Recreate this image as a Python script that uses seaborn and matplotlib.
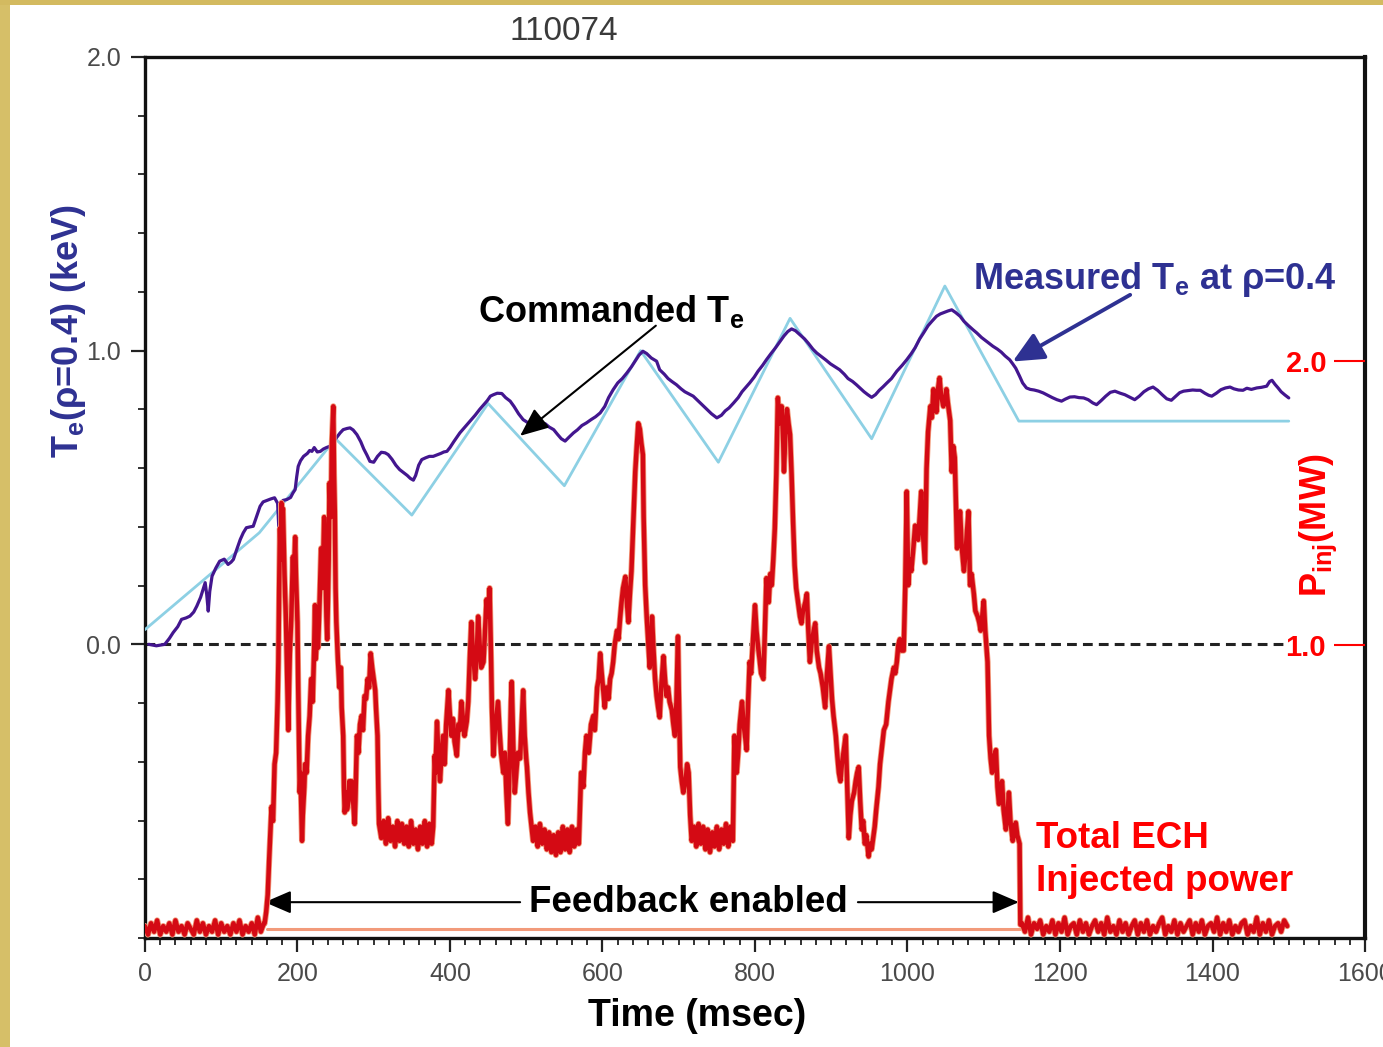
import matplotlib
matplotlib.use("Agg")
import matplotlib.pyplot as plt
import seaborn as sns
from matplotlib.patches import Rectangle
from matplotlib.ticker import MultipleLocator, FixedLocator

# ---------------------------------------------------------------- data
shot_label = "110074"

# Commanded T_e waveform (ms, keV)
te_cmd_t = [0, 150, 250, 350, 450, 550, 650, 752, 846, 953, 1049, 1146, 1500]
te_cmd = [0.05, 0.38, 0.70, 0.44, 0.82, 0.54, 1.00, 0.62, 1.11, 0.70, 1.22, 0.76, 0.76]

# Measured T_e at rho = 0.4 (ms, keV)
te_meas = [
    (5, 0.0), (15, -0.005), (26, 0.0), (32, 0.02), (37, 0.04), (43, 0.06), (48, 0.085),
    (54, 0.09), (59, 0.096), (64, 0.11), (68, 0.13), (73, 0.16), (79, 0.21), (81, 0.17),
    (83, 0.113), (85, 0.18), (88, 0.232), (93, 0.26), (98, 0.283), (104, 0.29), (109, 0.272),
    (113, 0.28), (116, 0.289), (120, 0.32), (125, 0.357), (129, 0.38), (133, 0.397),
    (138, 0.40), (142, 0.402), (147, 0.44), (151, 0.47), (155, 0.485), (160, 0.49),
    (165, 0.495), (170, 0.499), (174, 0.48), (176, 0.374), (178, 0.45), (181, 0.49),
    (186, 0.493), (191, 0.50), (194, 0.515), (197, 0.527), (199, 0.57), (201, 0.606),
    (204, 0.625), (208, 0.64), (213, 0.65), (216, 0.66), (219, 0.657), (222, 0.67),
    (226, 0.655), (230, 0.657), (234, 0.665), (238, 0.67), (243, 0.675), (247, 0.69),
    (251, 0.703), (256, 0.72), (260, 0.731), (265, 0.735), (269, 0.737), (273, 0.73),
    (278, 0.714), (283, 0.69), (287, 0.665), (291, 0.645), (295, 0.623), (300, 0.62),
    (305, 0.64), (310, 0.654), (315, 0.652), (319, 0.646), (324, 0.63), (329, 0.61),
    (334, 0.595), (339, 0.585), (344, 0.575), (348, 0.565), (352, 0.559), (355, 0.575),
    (359, 0.61), (363, 0.629), (368, 0.635), (373, 0.64), (378, 0.64), (383, 0.645),
    (388, 0.65), (392, 0.655), (396, 0.657), (400, 0.67), (405, 0.69), (409, 0.705),
    (413, 0.72), (418, 0.735), (423, 0.75), (428, 0.765), (433, 0.78), (439, 0.80),
    (444, 0.815), (449, 0.83), (453, 0.845), (457, 0.85), (462, 0.855), (468, 0.854),
    (473, 0.84), (479, 0.828), (484, 0.81), (490, 0.785), (496, 0.765), (502, 0.755),
    (509, 0.751), (516, 0.752), (520, 0.75), (525, 0.751), (530, 0.74), (536, 0.731),
    (541, 0.715), (546, 0.70), (551, 0.692), (556, 0.705), (562, 0.72), (567, 0.73),
    (573, 0.745), (579, 0.754), (585, 0.765), (591, 0.775), (597, 0.788), (603, 0.81),
    (608, 0.84), (614, 0.867), (620, 0.89), (626, 0.905), (632, 0.924), (638, 0.945),
    (643, 0.965), (648, 0.985), (653, 0.998), (658, 0.99), (664, 0.975), (671, 0.964),
    (675, 0.935), (681, 0.92), (686, 0.905), (691, 0.895), (697, 0.884), (703, 0.87),
    (708, 0.86), (714, 0.852), (719, 0.845), (725, 0.83), (731, 0.815), (737, 0.80),
    (743, 0.785), (750, 0.771), (756, 0.78), (761, 0.795), (766, 0.805), (772, 0.822),
    (778, 0.84), (783, 0.86), (788, 0.875), (793, 0.89), (799, 0.91), (804, 0.93),
    (810, 0.95), (815, 0.969), (821, 0.99), (827, 1.01), (833, 1.032), (838, 1.05),
    (843, 1.065), (848, 1.074), (853, 1.068), (859, 1.054), (865, 1.04), (870, 1.025),
    (876, 1.005), (881, 0.992), (887, 0.98), (893, 0.968), (899, 0.955), (905, 0.945),
    (911, 0.935), (917, 0.92), (922, 0.905), (928, 0.895), (933, 0.884), (938, 0.872),
    (943, 0.86), (948, 0.85), (953, 0.841), (958, 0.85), (963, 0.865), (968, 0.877),
    (973, 0.89), (979, 0.905), (986, 0.93), (993, 0.95), (999, 0.969), (1005, 0.99),
    (1010, 1.01), (1016, 1.04), (1021, 1.06), (1027, 1.085), (1032, 1.10), (1038, 1.117),
    (1043, 1.125), (1048, 1.13), (1053, 1.135), (1058, 1.139), (1063, 1.13), (1069, 1.117),
    (1074, 1.10), (1080, 1.085), (1086, 1.071), (1091, 1.06), (1097, 1.045), (1102, 1.035),
    (1107, 1.025), (1112, 1.015), (1118, 1.005), (1123, 0.995), (1128, 0.982), (1134, 0.969),
    (1138, 0.955), (1142, 0.94), (1147, 0.913), (1151, 0.89), (1156, 0.873), (1161, 0.868),
    (1166, 0.866), (1172, 0.862), (1178, 0.856), (1184, 0.848), (1190, 0.84), (1196, 0.833),
    (1202, 0.828), (1207, 0.835), (1213, 0.842), (1219, 0.843), (1225, 0.84), (1231, 0.839),
    (1237, 0.833), (1243, 0.822), (1248, 0.816), (1254, 0.83), (1260, 0.845), (1266, 0.858),
    (1272, 0.862), (1279, 0.855), (1285, 0.85), (1291, 0.842), (1298, 0.833), (1304, 0.845),
    (1310, 0.86), (1316, 0.87), (1322, 0.876), (1328, 0.865), (1334, 0.85), (1340, 0.836),
    (1346, 0.831), (1352, 0.845), (1357, 0.857), (1362, 0.862), (1368, 0.864), (1374, 0.866),
    (1379, 0.865), (1384, 0.865), (1390, 0.855), (1395, 0.848), (1399, 0.845), (1405, 0.855),
    (1411, 0.867), (1417, 0.873), (1423, 0.876), (1428, 0.87), (1434, 0.866), (1440, 0.865),
    (1445, 0.872), (1451, 0.868), (1458, 0.873), (1464, 0.875), (1471, 0.879), (1475, 0.895),
    (1478, 0.899), (1482, 0.885), (1486, 0.873), (1490, 0.86), (1495, 0.849), (1500, 0.839),
]

# Total injected ECH power (MW): level before feedback, sampled every 4 ms from 0 ms
pinj_pre = [0.01, -0.02, 0.02, -0.01, 0.03, -0.02, 0.01, -0.01, 0.02, -0.02,
            0.03, -0.01, 0.01, -0.02, 0.02, 0.00, -0.02, 0.03, -0.01, 0.02,
            -0.02, 0.01, -0.01, 0.03, -0.02, 0.02, -0.01, 0.01, -0.02, 0.02,
            -0.01, 0.03, -0.02, 0.01, -0.01, 0.02, -0.02, 0.04, -0.01, 0.02]

# Total injected ECH power while feedback is enabled (ms, MW)
pinj_fb = [
    (157, 0.02), (159, 0.06), (161, 0.12), (163, 0.25), (166, 0.43), (168, 0.38), (170, 0.58),
    (172, 0.62), (174, 0.80), (175, 0.94), (176, 1.20), (177, 1.41), (178, 1.30), (179, 1.50),
    (180, 1.44), (181, 1.48), (183, 1.25), (185, 1.08), (186, 0.95), (188, 0.70), (189, 0.85),
    (190, 0.97), (192, 1.10), (194, 1.31), (195, 1.20), (197, 1.38), (198, 1.25), (200, 1.08),
    (201, 0.85), (203, 0.48), (204, 0.55), (206, 0.31), (207, 0.40), (209, 0.50), (210, 0.58),
    (212, 0.55), (214, 0.68), (216, 0.75), (218, 0.88), (220, 0.80), (222, 1.00), (223, 1.14),
    (224, 0.95), (226, 1.05), (227, 0.99), (229, 1.15), (231, 1.34), (233, 1.20), (235, 1.45),
    (236, 1.38), (238, 1.10), (239, 1.02), (241, 1.30), (242, 1.57), (244, 1.45), (245, 1.70),
    (247, 1.84), (248, 1.60), (249, 1.47), (250, 1.20), (251, 1.08), (253, 0.95), (255, 0.85),
    (257, 0.92), (258, 0.78), (260, 0.68), (261, 0.50), (262, 0.41), (264, 0.48), (265, 0.42),
    (267, 0.45), (268, 0.52), (270, 0.48), (271, 0.52), (273, 0.45), (275, 0.37), (276, 0.45),
    (278, 0.68), (280, 0.62), (282, 0.72), (284, 0.75), (286, 0.70), (288, 0.82), (290, 0.81),
    (292, 0.88), (294, 0.85), (296, 0.97), (298, 0.92), (300, 0.88), (302, 0.84), (303, 0.78),
    (305, 0.68), (306, 0.50), (307, 0.37), (310, 0.32), (313, 0.38), (316, 0.30), (319, 0.39),
    (322, 0.31), (325, 0.36), (328, 0.29), (331, 0.38), (334, 0.31), (337, 0.37), (340, 0.30),
    (343, 0.36), (346, 0.29), (349, 0.38), (352, 0.30), (355, 0.35), (358, 0.28), (361, 0.36),
    (364, 0.30), (367, 0.38), (370, 0.29), (373, 0.37), (376, 0.30), (378, 0.36), (380, 0.61),
    (381, 0.55), (383, 0.73), (385, 0.60), (387, 0.52), (389, 0.62), (391, 0.68), (393, 0.58),
    (395, 0.72), (398, 0.84), (400, 0.75), (402, 0.68), (404, 0.74), (406, 0.66), (409, 0.61),
    (411, 0.72), (413, 0.70), (415, 0.80), (417, 0.74), (419, 0.68), (422, 0.73), (424, 0.80),
    (426, 0.95), (428, 1.08), (430, 0.98), (433, 0.88), (435, 0.96), (437, 1.10), (439, 1.00),
    (441, 0.92), (444, 0.94), (446, 1.05), (448, 1.16), (450, 1.10), (452, 1.20), (454, 0.94),
    (455, 0.78), (457, 0.61), (459, 0.70), (461, 0.75), (463, 0.80), (465, 0.70), (467, 0.62),
    (470, 0.55), (472, 0.62), (474, 0.48), (476, 0.37), (478, 0.55), (480, 0.80), (481, 0.87),
    (483, 0.65), (485, 0.48), (487, 0.55), (489, 0.62), (492, 0.60), (494, 0.72), (496, 0.84),
    (498, 0.68), (500, 0.60), (501, 0.57), (503, 0.48), (505, 0.41), (507, 0.36), (509, 0.31),
    (512, 0.36), (515, 0.29), (518, 0.37), (521, 0.30), (524, 0.35), (527, 0.28), (530, 0.34),
    (533, 0.27), (536, 0.33), (539, 0.26), (542, 0.34), (545, 0.27), (548, 0.36), (551, 0.28),
    (554, 0.35), (557, 0.27), (560, 0.36), (563, 0.29), (566, 0.35), (569, 0.30), (572, 0.55),
    (575, 0.50), (577, 0.62), (579, 0.68), (582, 0.62), (585, 0.72), (588, 0.75), (590, 0.70),
    (593, 0.85), (595, 0.88), (597, 0.97), (599, 0.90), (601, 0.84), (603, 0.78), (605, 0.85),
    (608, 0.81), (610, 0.88), (612, 0.90), (614, 0.94), (616, 1.00), (619, 1.05), (621, 1.02),
    (623, 1.09), (625, 1.15), (627, 1.20), (630, 1.24), (632, 1.15), (634, 1.08), (636, 1.18),
    (638, 1.26), (640, 1.40), (642, 1.55), (643, 1.61), (645, 1.70), (647, 1.78), (649, 1.76),
    (651, 1.71), (653, 1.67), (654, 1.45), (656, 1.21), (658, 1.10), (660, 1.01), (662, 0.92),
    (664, 1.00), (665, 1.10), (667, 0.98), (669, 0.88), (671, 0.82), (673, 0.78), (675, 0.745),
    (677, 0.85), (680, 0.96), (682, 0.88), (684, 0.82), (686, 0.85), (688, 0.80), (691, 0.77),
    (693, 0.72), (695, 0.68), (697, 0.80), (699, 1.03), (700, 0.85), (702, 0.57), (704, 0.52),
    (706, 0.48), (709, 0.52), (711, 0.58), (713, 0.55), (715, 0.40), (717, 0.31), (720, 0.36),
    (723, 0.29), (726, 0.37), (729, 0.30), (732, 0.36), (735, 0.28), (738, 0.35), (741, 0.27),
    (744, 0.34), (747, 0.29), (750, 0.36), (753, 0.28), (756, 0.35), (759, 0.30), (762, 0.37),
    (765, 0.29), (768, 0.36), (771, 0.31), (773, 0.68), (775, 0.60), (776, 0.55), (778, 0.62),
    (780, 0.72), (783, 0.80), (785, 0.72), (787, 0.68), (789, 0.63), (791, 0.80), (793, 0.94),
    (795, 0.90), (797, 1.00), (800, 1.14), (802, 1.05), (804, 0.995), (806, 0.95), (808, 0.90),
    (811, 0.88), (813, 1.05), (815, 1.235), (818, 1.15), (820, 1.25), (822, 1.21), (824, 1.30),
    (826, 1.41), (828, 1.60), (830, 1.87), (832, 1.78), (835, 1.84), (837, 1.72), (838, 1.61),
    (840, 1.75), (842, 1.83), (844, 1.78), (846, 1.74), (848, 1.60), (850, 1.43), (852, 1.28),
    (854, 1.20), (857, 1.14), (859, 1.10), (861, 1.076), (863, 1.12), (866, 1.15), (868, 1.18),
    (870, 1.05), (872, 0.94), (874, 1.00), (877, 1.05), (879, 1.076), (881, 0.98), (884, 0.92),
    (886, 0.90), (889, 0.85), (892, 0.78), (894, 0.88), (897, 0.995), (899, 0.90), (901, 0.81),
    (903, 0.75), (906, 0.68), (908, 0.61), (910, 0.55), (912, 0.52), (914, 0.58), (916, 0.62),
    (919, 0.68), (921, 0.50), (923, 0.32), (925, 0.40), (927, 0.45), (930, 0.48), (932, 0.52),
    (934, 0.55), (936, 0.57), (938, 0.45), (940, 0.35), (942, 0.38), (944, 0.30), (946, 0.33),
    (949, 0.255), (951, 0.30), (953, 0.28), (955, 0.32), (957, 0.36), (959, 0.42), (962, 0.50),
    (964, 0.58), (967, 0.65), (969, 0.70), (972, 0.72), (975, 0.80), (977, 0.84), (979, 0.88),
    (982, 0.92), (984, 0.90), (986, 0.94), (988, 1.00), (990, 1.02), (992, 0.98), (995, 0.98),
    (997, 1.20), (999, 1.54), (1001, 1.21), (1003, 1.30), (1005, 1.26), (1008, 1.35),
    (1010, 1.42), (1012, 1.38), (1014, 1.37), (1016, 1.45), (1018, 1.54), (1020, 1.40),
    (1023, 1.29), (1025, 1.62), (1027, 1.75), (1030, 1.84), (1032, 1.80), (1034, 1.90),
    (1036, 1.87), (1038, 1.82), (1040, 1.90), (1042, 1.94), (1044, 1.88), (1047, 1.84),
    (1049, 1.86), (1051, 1.90), (1053, 1.85), (1056, 1.79), (1058, 1.61), (1060, 1.70),
    (1062, 1.66), (1064, 1.45), (1065, 1.34), (1067, 1.40), (1069, 1.47), (1071, 1.35),
    (1074, 1.26), (1076, 1.32), (1078, 1.40), (1080, 1.47), (1082, 1.21), (1084, 1.25),
    (1087, 1.18), (1089, 1.12), (1092, 1.10), (1094, 1.08), (1096, 1.05), (1098, 1.10),
    (1100, 1.155), (1102, 1.05), (1105, 0.94), (1107, 0.68), (1109, 0.60), (1111, 0.55),
    (1113, 0.60), (1116, 0.63), (1118, 0.50), (1120, 0.44), (1122, 0.48), (1124, 0.52),
    (1126, 0.42), (1129, 0.35), (1131, 0.40), (1133, 0.48), (1135, 0.38), (1138, 0.31),
    (1140, 0.34), (1142, 0.374), (1144, 0.33), (1146, 0.31), (1147, 0.30), (1148, 0.015),
]

# Total injected ECH power after feedback, sampled every 4 ms from 1150 ms
pinj_post = [0.02, -0.01, 0.04, -0.02, 0.02, 0.00, 0.03, -0.02, 0.01, -0.01,
             0.03, -0.02, 0.02, -0.01, 0.04, -0.02, 0.01, 0.02, -0.02, 0.03,
             -0.01, 0.02, -0.02, 0.01, 0.03, -0.01, 0.02, -0.02, 0.04, -0.01,
             0.01, -0.02, 0.03, -0.01, 0.02, -0.02, 0.01, 0.03, -0.02, 0.02,
             -0.01, 0.03, -0.02, 0.01, -0.01, 0.02, 0.04, -0.02, 0.01, -0.01,
             0.03, -0.02, 0.02, -0.01, 0.01, 0.03, -0.02, 0.02, -0.01, 0.03,
             -0.02, 0.01, 0.02, -0.01, 0.04, -0.02, 0.02, -0.01, 0.03, -0.02,
             0.01, -0.01, 0.02, 0.03, -0.02, 0.01, -0.01, 0.04, -0.02, 0.02,
             -0.01, 0.03, -0.02, 0.01, 0.02, -0.01, 0.03, 0.01]

# Secondary gyrotron trace sitting at zero during feedback
pinj_floor_t = [160, 1148]
pinj_floor = [0.0, 0.0]

x_ticks = [0, 200, 400, 600, 800, 1000, 1200, 1400, 1600]
te_ticks = [0.0, 1.0, 2.0]
p_ticks = [1.0, 2.0]

# ---------------------------------------------------------------- style
sns.set_theme(style="white")
plt.rcParams["font.family"] = ["Liberation Sans", "DejaVu Sans"]
plt.rcParams["mathtext.fontset"] = "custom"
plt.rcParams["mathtext.rm"] = "Liberation Sans"
plt.rcParams["mathtext.bf"] = "Liberation Sans:bold"
plt.rcParams["mathtext.it"] = "Liberation Sans:italic"

NARROW = ["Liberation Sans Narrow", "Liberation Sans", "DejaVu Sans"]
NAVY = "#2E3192"
PURPLE = "#43168F"
SKY = "#8DD0E4"
RED = "#D40A14"
SALMON = "#F29A7A"
BRIGHT_RED = "#FF0000"
GREY = "#4A4A4A"

fig = plt.figure(figsize=(13.83, 10.47), dpi=100)
fig.patch.set_facecolor("white")
fig.add_artist(Rectangle((0, 0), 10 / 1383, 1, transform=fig.transFigure,
                         facecolor="#D6BF68", edgecolor="none", zorder=0))
fig.add_artist(Rectangle((0, 1 - 5 / 1047), 1, 5 / 1047, transform=fig.transFigure,
                         facecolor="#D3BA60", edgecolor="none", zorder=0))

ax = fig.add_axes([0.1048, 0.1041, 0.8822, 0.8415])
ax.set_facecolor("white")
ax.set_xlim(0, 1600)
ax.set_ylim(-1.0, 2.0)

# zero reference
sns.lineplot(x=[0, 1500], y=[0.0, 0.0], ax=ax, color="#222222", linewidth=2.2,
             dashes=False, zorder=2).lines[-1].set_dashes((3.2, 2.0))

# commanded and measured electron temperature
sns.lineplot(x=te_cmd_t, y=te_cmd, ax=ax, color=SKY, linewidth=2.0,
             estimator=None, sort=False, zorder=3)
sns.lineplot(x=[p[0] for p in te_meas], y=[p[1] for p in te_meas], ax=ax,
             color=PURPLE, linewidth=2.3, estimator=None, sort=False, zorder=4)

# injected power on the right-hand scale
ax2 = ax.twinx()
ax2.set_ylim(-0.032, 3.07)
pinj_t = [4 * i for i in range(len(pinj_pre))] + [p[0] for p in pinj_fb] + \
         [1150 + 4 * i for i in range(len(pinj_post))]
pinj_v = pinj_pre + [p[1] for p in pinj_fb] + pinj_post
sns.lineplot(x=pinj_floor_t, y=pinj_floor, ax=ax2, color=SALMON, linewidth=2.2,
             estimator=None, sort=False)
sns.lineplot(x=pinj_t, y=pinj_v, ax=ax2, color=SALMON, linewidth=4.4,
             estimator=None, sort=False)
sns.lineplot(x=pinj_t, y=pinj_v, ax=ax2, color=RED, linewidth=3.2,
             estimator=None, sort=False)

# ---------------------------------------------------------------- axes
for side, sp in ax.spines.items():
    sp.set_visible(True)
    sp.set_color("#111111")
    sp.set_linewidth(2.4)
ax.spines["right"].set_linewidth(3.0)
for sp in ax2.spines.values():
    sp.set_visible(False)

ax.set_xticks(x_ticks, [str(v) for v in x_ticks], fontfamily=NARROW,
              fontsize=18, color=GREY)
ax.set_yticks(te_ticks, ["0.0", "1.0", "2.0"], fontfamily=NARROW,
              fontsize=18, color=GREY)
ax.xaxis.set_minor_locator(MultipleLocator(20))
ax.yaxis.set_minor_locator(MultipleLocator(0.2))
ax.tick_params(which="major", direction="out", length=10, width=1.6,
               color="#222222", pad=7, bottom=True, left=True, top=False, right=False)
ax.tick_params(which="minor", direction="out", length=5, width=1.3,
               color="#222222", bottom=True, left=True, top=False, right=False)

ax2.yaxis.set_major_locator(FixedLocator(p_ticks))
ax2.set_yticklabels(["1.0", "2.0"], fontsize=21, fontweight="bold", color=BRIGHT_RED)
ax2.tick_params(axis="y", which="major", direction="in", length=22, width=1.5,
                color=BRIGHT_RED, pad=-28, right=True, labelright=True)
ax2.tick_params(axis="y", which="minor", right=False)
for lbl in ax2.get_yticklabels():
    lbl.set_horizontalalignment("right")
ax2.grid(False)
ax.grid(False)

ax.set_xlabel("Time (msec)", fontsize=27, fontweight="bold", color="black", va="center")
ax.xaxis.set_label_coords(0.4525, -0.0885)
ax.set_ylabel(r"T$_\mathbf{e}$(ρ=0.4) (keV)", fontsize=26, fontweight="bold",
              color=NAVY, va="center")
ax.yaxis.set_label_coords(-0.063, 0.689)
ax2.set_ylabel(r"P$_\mathbf{inj}$(MW)", fontsize=26, fontweight="bold",
               color=BRIGHT_RED, va="center", rotation=90)
ax2.yaxis.set_label_coords(0.9615, 0.469)

ax.text(0.343, 1.0284, shot_label, transform=ax.transAxes, ha="center", va="center",
        fontsize=24, color="#3A3A3A")

# ---------------------------------------------------------------- annotations
ax.text(437, 1.133, r"Commanded T$_\mathbf{e}$", fontsize=26, fontweight="bold",
        color="black", ha="left", va="center", zorder=6)
ax.annotate("", xy=(492, 0.71), xytext=(670, 1.085),
            arrowprops=dict(arrowstyle="-|>,head_length=0.7,head_width=0.3",
                            mutation_scale=25, color="black", lw=1.5,
                            shrinkA=0, shrinkB=0), zorder=6)

ax.text(1086, 1.241, r"Measured T$_\mathbf{e}$ at ρ=0.4", fontsize=26, fontweight="bold",
        color=NAVY, ha="left", va="center", zorder=6)
ax.annotate("", xy=(1138, 0.963), xytext=(1292, 1.19),
            arrowprops=dict(arrowstyle="-|>,head_length=0.75,head_width=0.35",
                            mutation_scale=25, color=NAVY, lw=2.8,
                            shrinkA=0, shrinkB=0), zorder=6)

ax.text(713, -0.878, "Feedback enabled", fontsize=26.5, fontweight="bold",
        color="black", ha="center", va="center", zorder=6)
ax.annotate("", xy=(157, -0.878), xytext=(492, -0.878),
            arrowprops=dict(arrowstyle="-|>,head_length=0.65,head_width=0.28",
                            mutation_scale=25, color="black", lw=1.5,
                            shrinkA=0, shrinkB=0), zorder=6)
ax.annotate("", xy=(1146, -0.878), xytext=(935, -0.878),
            arrowprops=dict(arrowstyle="-|>,head_length=0.65,head_width=0.28",
                            mutation_scale=25, color="black", lw=1.5,
                            shrinkA=0, shrinkB=0), zorder=6)

ax.text(1168, -0.735, "Total ECH\nInjected power", fontsize=26.5, fontweight="bold",
        color=BRIGHT_RED, ha="left", va="center", linespacing=1.3, zorder=6)

fig.savefig("out.png", dpi=100, facecolor="white")
